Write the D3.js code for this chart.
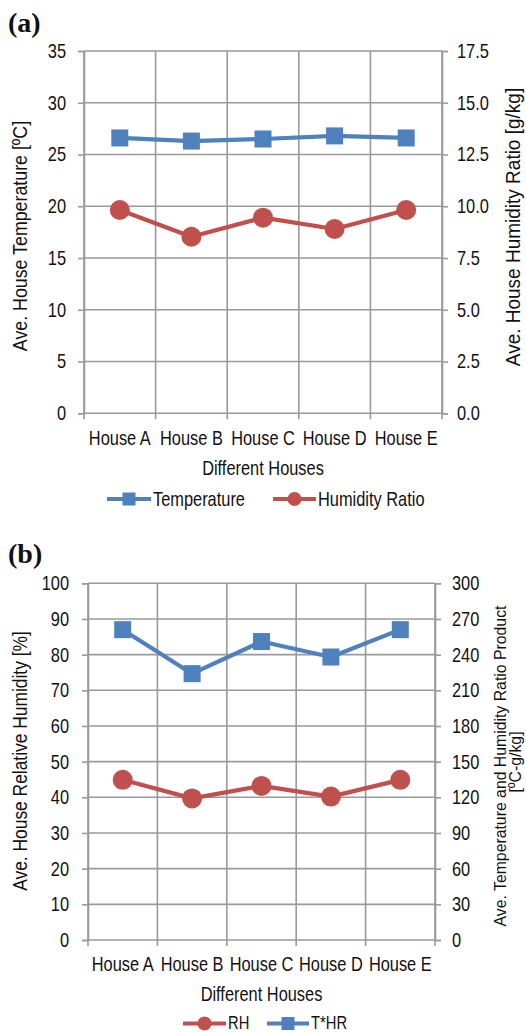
<!DOCTYPE html>
<html>
<head>
<meta charset="utf-8">
<script src="https://cdn.jsdelivr.net/npm/d3@7"></script>
<style>
  html, body { margin: 0; padding: 0; background: #fff; }
  svg { display: block; }
  text { font-family: "Liberation Sans", Arial, sans-serif; fill: #111; }
</style>
</head>
<body>
<svg id="chart" width="526" height="1033"></svg>
<script>
// ---------- Data ----------
const houses = ["House A", "House B", "House C", "House D", "House E"];

// Panel (a)
const temperature = [26.6, 26.3, 26.5, 26.8, 26.6];      // ºC (left axis)
const humidityRatio = [9.82, 8.53, 9.45, 8.90, 9.82];     // g/kg (right axis)
const ticksA_left = [0, 5, 10, 15, 20, 25, 30, 35];
const ticksA_right = [0, 2.5, 5, 7.5, 10, 12.5, 15, 17.5];

// Panel (b)
const relHumidity = [44.9, 39.7, 43.2, 40.2, 44.9];       // % (left axis)
const tHrProduct = [261, 224, 251, 238, 261];              // ºC-g/kg (right axis)
const ticksB_left = [0, 10, 20, 30, 40, 50, 60, 70, 80, 90, 100];
const ticksB_right = [0, 30, 60, 90, 120, 150, 180, 210, 240, 270, 300];

const BLUE = "#4F81BD", RED = "#C0504D", GRID = "#9a9a9a";
const FS = 20, SX = 0.82;   // font size and horizontal compression of the labels

const svg = d3.select("#chart");

function htext(g, x, y, str, anchor, fs) {
  return g.append("text")
    .attr("transform", `translate(${x},${y}) scale(${SX},1)`)
    .attr("text-anchor", anchor || "start").attr("font-size", fs || FS).text(str);
}

function panel(cfg) {
  const g = svg.append("g");
  const x = d3.scaleBand().domain(houses).range([cfg.x0, cfg.x1]);
  const yL = d3.scaleLinear().domain(cfg.leftDomain).range([cfg.yBottom, cfg.yTop]);
  const yR = d3.scaleLinear().domain(cfg.rightDomain).range([cfg.yBottom, cfg.yTop]);

  // horizontal gridlines
  g.append("g").selectAll("line").data(cfg.leftTicks).join("line")
    .attr("x1", cfg.x0).attr("x2", cfg.x1)
    .attr("y1", d => yL(d)).attr("y2", d => yL(d))
    .attr("stroke", GRID).attr("stroke-width", 1.6);

  // vertical gridlines at category boundaries (extend below as ticks)
  const bounds = houses.map(h => x(h)).concat([cfg.x1]);
  g.append("g").selectAll("line").data(bounds).join("line")
    .attr("x1", d => d).attr("x2", d => d)
    .attr("y1", cfg.yTop).attr("y2", cfg.yBottom + 6)
    .attr("stroke", GRID).attr("stroke-width", 1.6);

  // left axis
  const la = g.append("g").attr("transform", `translate(${cfg.x0},0)`)
    .call(d3.axisLeft(yL).tickValues(cfg.leftTicks).tickSize(6).tickPadding(cfg.lPad).tickFormat(cfg.lFmt));
  // right axis
  const ra = g.append("g").attr("transform", `translate(${cfg.x1},0)`)
    .call(d3.axisRight(yR).tickValues(cfg.rightTicks).tickSize(6).tickPadding(cfg.rPad).tickFormat(cfg.rFmt));
  [la, ra].forEach(a => {
    a.select(".domain").attr("stroke", GRID).attr("stroke-width", 1.6);
    a.selectAll(".tick line").attr("stroke", GRID).attr("stroke-width", 1.6);
    a.selectAll(".tick text")
      .attr("font-size", FS).attr("font-family", "Liberation Sans, Arial, sans-serif").attr("fill", "#111")
      .attr("x", function () { return +d3.select(this).attr("x") / SX; })
      .attr("transform", `scale(${SX},1)`);
  });

  // category labels
  houses.forEach(h => htext(g, x(h) + x.bandwidth() / 2, cfg.catY, h, "middle"));

  // x title
  htext(g, (cfg.x0 + cfg.x1) / 2, cfg.xTitleY, "Different Houses", "middle");

  // y titles
  g.append("text").attr("transform", `translate(${cfg.lTitleX},${cfg.lTitleY}) rotate(-90) scale(${cfg.lTitleScale},1)`)
    .attr("text-anchor", "middle").attr("dominant-baseline", "central")
    .attr("font-size", FS).text(cfg.leftTitle);
  cfg.rightTitle.forEach((t, i) => {
    g.append("text").attr("transform", `translate(${cfg.rTitleX[i]},${cfg.rTitleY[i]}) rotate(-90) scale(${cfg.rTitleScale},1)`)
      .attr("text-anchor", "middle").attr("dominant-baseline", "central")
      .attr("font-size", cfg.rTitleSize).text(t);
  });

  // panel letter
  g.append("text").attr("x", 8).attr("y", cfg.letterY)
    .style("font-family", "'Liberation Serif', 'Times New Roman', serif").attr("font-weight", "bold")
    .attr("font-size", 28).text(cfg.letter);

  const cx = d => x(d) + x.bandwidth() / 2;

  // series
  cfg.series.forEach(s => {
    const sc = s.axis === "left" ? yL : yR;
    const pts = houses.map((h, i) => [cx(h), sc(s.values[i])]);
    g.append("path").attr("d", d3.line()(pts)).attr("fill", "none")
      .attr("stroke", s.color).attr("stroke-width", 4.2).attr("stroke-linejoin", "round");
    if (s.marker === "square") {
      g.append("g").selectAll("rect").data(pts).join("rect")
        .attr("x", d => d[0] - 8.5).attr("y", d => d[1] - 8.5)
        .attr("width", 17).attr("height", 17).attr("fill", s.color);
    } else {
      g.append("g").selectAll("circle").data(pts).join("circle")
        .attr("cx", d => d[0]).attr("cy", d => d[1]).attr("r", 10).attr("fill", s.color);
    }
  });

  // legend
  cfg.legend.forEach(l => {
    const s = cfg.series[l.idx];
    g.append("line").attr("x1", l.x1).attr("x2", l.x2).attr("y1", cfg.legendY).attr("y2", cfg.legendY)
      .attr("stroke", s.color).attr("stroke-width", 4.2);
    const mx = (l.x1 + l.x2) / 2;
    if (s.marker === "square") {
      g.append("rect").attr("x", mx - 6.5).attr("y", cfg.legendY - 6.5).attr("width", 13).attr("height", 13).attr("fill", s.color);
    } else {
      g.append("circle").attr("cx", mx).attr("cy", cfg.legendY).attr("r", 7).attr("fill", s.color);
    }
    htext(g, l.x2 + 2, cfg.legendY + cfg.legendDy, s.name, "start", cfg.legendFs);
  });
}

panel({
  x0: 84, x1: 442, yTop: 51, yBottom: 413.3,
  leftDomain: [0, 35], rightDomain: [0, 17.5],
  leftTicks: ticksA_left, rightTicks: ticksA_right,
  lPad: 12, rPad: 9, lFmt: d3.format("d"), rFmt: d3.format(".1f"),
  catY: 445, xTitleY: 475,
  leftTitle: "Ave. House Temperature [ºC]", lTitleX: 20, lTitleY: 236, lTitleScale: 0.89,
  rightTitle: ["Ave. House Humidity Ratio [g/kg]"], rTitleX: [513], rTitleY: [227], rTitleSize: 20, rTitleScale: 0.95,
  letter: "(a)", letterY: 32,
  series: [
    { name: "Temperature", values: temperature, axis: "left", color: BLUE, marker: "square" },
    { name: "Humidity Ratio", values: humidityRatio, axis: "right", color: RED, marker: "circle" }
  ],
  legendY: 499, legendDy: 7, legendFs: 20,
  legend: [{ idx: 0, x1: 107, x2: 151 }, { idx: 1, x1: 273, x2: 316 }]
});

panel({
  x0: 88, x1: 435, yTop: 583.3, yBottom: 940,
  leftDomain: [0, 100], rightDomain: [0, 300],
  leftTicks: ticksB_left, rightTicks: ticksB_right,
  lPad: 13, rPad: 11, lFmt: d3.format("d"), rFmt: d3.format("d"),
  catY: 970.5, xTitleY: 1000.5,
  leftTitle: "Ave. House Relative Humidity [%]", lTitleX: 20, lTitleY: 761, lTitleScale: 0.87,
  rightTitle: ["Ave. Temperature and Humidity Ratio Product", "[ºC-g/kg]"],
  rTitleX: [500, 515], rTitleY: [766, 762], rTitleSize: 17, rTitleScale: 0.93,
  letter: "(b)", letterY: 563,
  series: [
    { name: "RH", values: relHumidity, axis: "left", color: RED, marker: "circle" },
    { name: "T*HR", values: tHrProduct, axis: "right", color: BLUE, marker: "square" }
  ],
  legendY: 1023.5, legendDy: 5, legendFs: 18,
  legend: [{ idx: 0, x1: 183, x2: 226 }, { idx: 1, x1: 267, x2: 309 }]
});
</script>
</body>
</html>
